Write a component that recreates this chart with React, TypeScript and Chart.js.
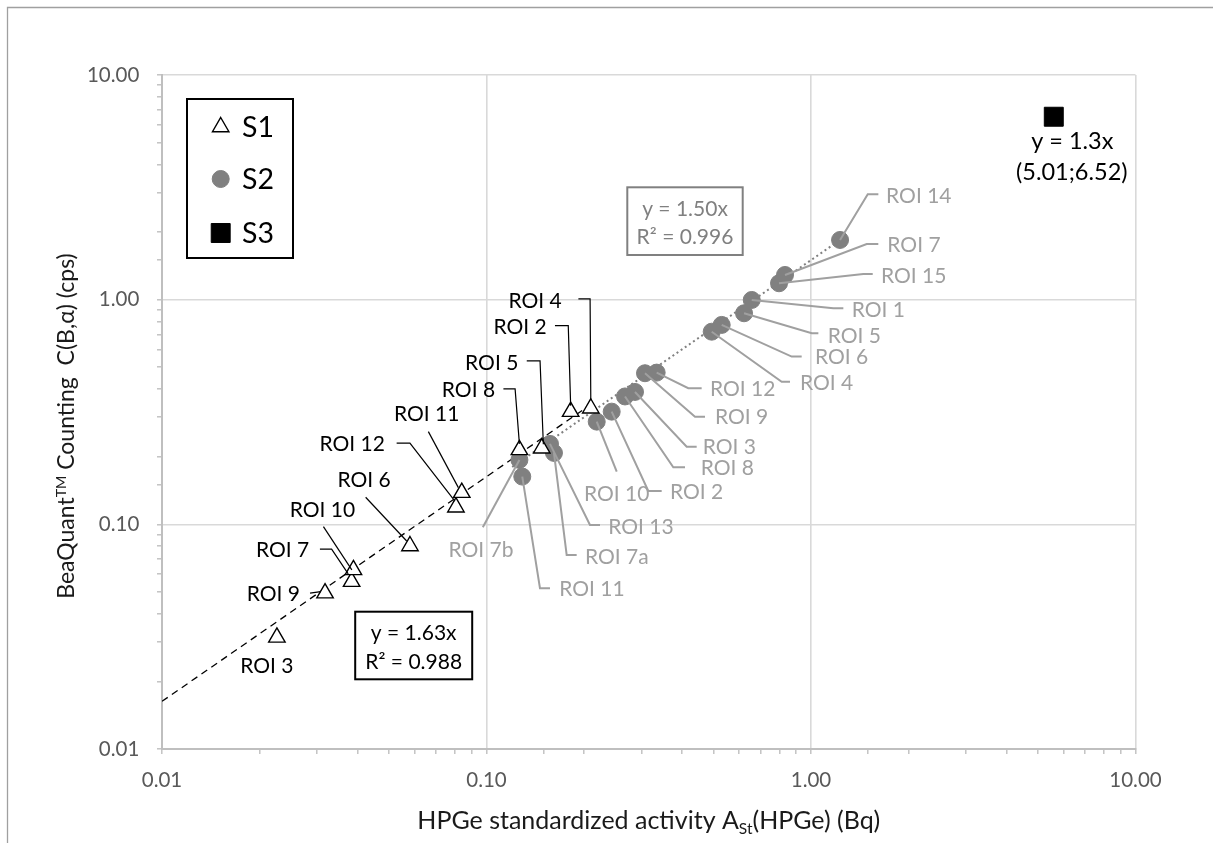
import React, { useEffect, useRef } from 'react';
import { Chart, registerables } from 'chart.js';

Chart.register(...registerables);

// ---------- data ----------
const s1Names = ['ROI 3', 'ROI 9', 'ROI 7', 'ROI 10', 'ROI 6', 'ROI 12', 'ROI 11', 'ROI 8', 'ROI 5', 'ROI 2', 'ROI 4'];
const s1X = [0.0226, 0.0318, 0.0384, 0.0389, 0.0581, 0.0805, 0.0839, 0.1263, 0.148, 0.1817, 0.2096];
const s1Y = [0.0314, 0.0494, 0.0556, 0.0627, 0.0801, 0.1192, 0.1384, 0.2145, 0.2182, 0.3174, 0.3286];

const s2Names = ['ROI 11', 'ROI 7b', 'ROI 13', 'ROI 7a', 'ROI 10', 'ROI 2', 'ROI 8', 'ROI 3', 'ROI 9', 'ROI 12', 'ROI 4', 'ROI 6', 'ROI 5', 'ROI 1', 'ROI 15', 'ROI 7', 'ROI 14'];
const s2X = [0.1289, 0.1263, 0.1569, 0.1614, 0.2186, 0.2431, 0.2672, 0.2868, 0.3079, 0.3345, 0.4943, 0.5306, 0.6219, 0.6568, 0.797, 0.8316, 1.229];
const s2Y = [0.1631, 0.1935, 0.228, 0.2079, 0.2865, 0.3174, 0.3709, 0.3884, 0.4705, 0.4735, 0.7202, 0.772, 0.87, 0.997, 1.183, 1.288, 1.844];

const s3X = [5.6];
const s3Y = [6.52];

const seriesNames = ['S1', 'S2', 'S3'];

const s1Slope = 1.63;
const s1R2 = '0.988';
const s1FitRange = [0.01, 0.21];
const s2Slope = 1.5;
const s2R2 = '0.996';
const s2FitRange = [0.12, 1.23];
const s3Text = ['y = 1.3x', '(5.01;6.52)'];

const xTicks = [0.01, 0.1, 1, 10];
const yTicks = [0.01, 0.1, 1, 10];

// ---------- label layout (pixel offsets from the point) ----------
type Lbl = { t: [number, number]; a?: CanvasTextAlign; p?: [number, number][] };
const s1Layout: Record<string, Lbl> = {
  'ROI 4': { t: [-29, -108.3], a: 'right', p: [[-12.4, -109.3], [-0.7, -109.3], [0, -8]] },
  'ROI 2': { t: [-24, -85], a: 'right', p: [[-15.7, -86], [-2.4, -86], [0, -6]] },
  'ROI 5': { t: [-23.4, -86], a: 'right', p: [[-15, -87.3], [-1.7, -87.3], [1.6, -4]] },
  'ROI 8': { t: [-24.3, -60], a: 'right', p: [[-16, -61], [-4.3, -61], [0, -6]] },
  'ROI 11': { t: [-2.4, -79.4], a: 'right', p: [[-33.4, -61], [-3.4, -5]] },
  'ROI 12': { t: [-71, -63.3], a: 'right', p: [[-59.3, -64], [-46, -64], [-1, -6]] },
  'ROI 6': { t: [-19.3, -66.7], a: 'right', p: [[-44.3, -48.7], [-3.3, -5]] },
  'ROI 10': { t: [1.7, -60.7], a: 'right', p: [[-30, -43.3], [-1.6, 0]] },
  'ROI 7': { t: [-42.4, -31.7], a: 'right', p: [[-31.7, -32.4], [-20, -32.4], [-3.4, -7.7]] },
  'ROI 9': { t: [-25, 0], a: 'right', p: [[-15, 0], [-4.3, -1.6]] },
  'ROI 3': { t: [-10, 27.7], a: 'center' },
};
const s2Layout: Record<string, Lbl> = {
  'ROI 14': { t: [46, -45], p: [[0, 0], [27.7, -45.7], [38.3, -45.7]] },
  'ROI 7': { t: [102.3, -30.7], p: [[0, 0], [81.7, -31], [93.3, -31]] },
  'ROI 15': { t: [102, -8.3], p: [[0, 0], [84.3, -9.3], [93.7, -9.3]] },
  'ROI 1': { t: [100, 9.3], p: [[0, 0], [81.6, 8.3], [91.6, 8.3]] },
  'ROI 5': { t: [83.7, 21.7], p: [[0, 0], [67.7, 20], [74.3, 20]] },
  'ROI 6': { t: [93.3, 32], p: [[0, 0], [70, 31.7], [80, 31.7]] },
  'ROI 4': { t: [88.3, 50.3], p: [[0, 0], [70, 50], [78.3, 50]] },
  'ROI 12': { t: [53.3, 15.6], p: [[0, 0], [31.6, 15.6], [45, 15.6]] },
  'ROI 9': { t: [70, 43.4], p: [[0, 0], [50, 43.4], [60, 43.4]] },
  'ROI 3': { t: [67.7, 54.7], p: [[0, 0], [51.7, 54.7], [61.7, 54.7]] },
  'ROI 8': { t: [75.7, 70.8], p: [[0, 0], [48.3, 70.8], [60, 70.8]] },
  'ROI 2': { t: [58.3, 80], p: [[0, 0], [36.6, 79.3], [50, 79.3]] },
  'ROI 10': { t: [20, 71.6], a: 'center', p: [[0, 0], [20, 50]] },
  'ROI 13': { t: [58.3, 82.7], p: [[0, 0], [40, 81], [50, 81]] },
  'ROI 7a': { t: [31, 103.7], p: [[0, 0], [12.7, 102], [22.7, 102]] },
  'ROI 11': { t: [37, 111.6], p: [[0, 0], [17.7, 111.6], [27.7, 111.6]] },
  'ROI 7b': { t: [-38.5, 89.3], a: 'center', p: [[0, 0], [-36.6, 67.3]] },
};

// ---------- styles ----------
const FONT = 'Lato, "Open Sans", "Noto Sans", sans-serif';
const LBL = 21;
const GRAY_PT = '#808080';
const GRAY_LBL = '#a0a0a0';

type Seg = { t: string; k?: 'sup' | 'sub' };

function drawRich(ctx: CanvasRenderingContext2D, segs: Seg[], x: number, yMid: number, size: number, color: string, align: 'center' | 'left') {
  const small = size * 0.62;
  const widths = segs.map((s) => {
    ctx.font = `${s.k ? small : size}px ${FONT}`;
    return ctx.measureText(s.t).width;
  });
  const total = widths.reduce((a, b) => a + b, 0);
  let cx = align === 'center' ? x - total / 2 : x;
  const base = yMid + size * 0.36;
  ctx.fillStyle = color;
  ctx.textAlign = 'left';
  ctx.textBaseline = 'alphabetic';
  segs.forEach((s, i) => {
    ctx.font = `${s.k ? small : size}px ${FONT}`;
    const dy = s.k === 'sup' ? -size * 0.36 : s.k === 'sub' ? size * 0.2 : 0;
    ctx.fillText(s.t, cx, base + dy);
    cx += widths[i];
  });
}

function text(ctx: CanvasRenderingContext2D, t: string, x: number, yMid: number, size: number, color: string, align: CanvasTextAlign) {
  ctx.font = `${size}px ${FONT}`;
  ctx.fillStyle = color;
  ctx.textAlign = align;
  ctx.textBaseline = 'alphabetic';
  ctx.fillText(t, x, yMid + size * 0.36);
}

function marker(ctx: CanvasRenderingContext2D, kind: string, x: number, y: number, r: number, fill: string, stroke: string, lw: number) {
  ctx.beginPath();
  if (kind === 'triangle') {
    for (let i = 0; i < 3; i++) {
      const a = (i * 2 * Math.PI) / 3;
      const px = x + Math.sin(a) * r;
      const py = y - Math.cos(a) * r;
      if (i === 0) ctx.moveTo(px, py);
      else ctx.lineTo(px, py);
    }
    ctx.closePath();
  } else if (kind === 'circle') {
    ctx.arc(x, y, r, 0, Math.PI * 2);
  } else {
    const s = Math.SQRT1_2 * r;
    ctx.rect(x - s, y - s, 2 * s, 2 * s);
  }
  ctx.fillStyle = fill;
  ctx.fill();
  ctx.lineWidth = lw;
  ctx.strokeStyle = stroke;
  ctx.stroke();
}

const isDecade = (v: number) => {
  const l = Math.log10(v);
  return Math.abs(l - Math.round(l)) < 1e-9;
};

const annotationPlugin = {
  id: 'annot',
  afterDatasetsDraw(chart: any) {
    const ctx: CanvasRenderingContext2D = chart.ctx;
    const xs = chart.scales.x;
    const ys = chart.scales.y;
    ctx.save();
    // S2 leaders + labels
    s2Names.forEach((n, i) => {
      const L = s2Layout[n];
      if (!L) return;
      const px = xs.getPixelForValue(s2X[i]);
      const py = ys.getPixelForValue(s2Y[i]);
      if (L.p) {
        ctx.beginPath();
        L.p.forEach(([dx, dy], j) => (j === 0 ? ctx.moveTo(px + dx, py + dy) : ctx.lineTo(px + dx, py + dy)));
        ctx.strokeStyle = GRAY_LBL;
        ctx.lineWidth = 2;
        ctx.stroke();
      }
      text(ctx, n, px + L.t[0], py + L.t[1], LBL, GRAY_LBL, L.a || 'left');
    });
    // S1 leaders + labels
    s1Names.forEach((n, i) => {
      const L = s1Layout[n];
      if (!L) return;
      const px = xs.getPixelForValue(s1X[i]);
      const py = ys.getPixelForValue(s1Y[i]);
      if (L.p) {
        ctx.beginPath();
        L.p.forEach(([dx, dy], j) => (j === 0 ? ctx.moveTo(px + dx, py + dy) : ctx.lineTo(px + dx, py + dy)));
        ctx.strokeStyle = '#000';
        ctx.lineWidth = 1.2;
        ctx.stroke();
      }
      text(ctx, n, px + L.t[0], py + L.t[1], LBL, '#000', L.a || 'right');
    });
    ctx.restore();
  },
  afterDraw(chart: any) {
    const ctx: CanvasRenderingContext2D = chart.ctx;
    const ca = chart.chartArea;
    const xs = chart.scales.x;
    const ys = chart.scales.y;
    ctx.save();

    // outer frame (left + top)
    ctx.beginPath();
    ctx.moveTo(7.5, 843);
    ctx.lineTo(7.5, 7.5);
    ctx.lineTo(1213, 7.5);
    ctx.strokeStyle = '#a0a0a0';
    ctx.lineWidth = 1.3;
    ctx.stroke();

    // legend
    const lx = ca.left + 25;
    const ly = ca.top + 24;
    ctx.fillStyle = '#fff';
    ctx.fillRect(lx, ly, 106, 159);
    ctx.strokeStyle = '#000';
    ctx.lineWidth = 2;
    ctx.strokeRect(lx, ly, 106, 159);
    const ds = chart.data.datasets;
    const rows = [28, 80, 134];
    for (let i = 0; i < 3; i++) {
      const d = ds[i];
      marker(ctx, d.pointStyle, lx + 33.7, ly + rows[i], d.pointRadius, d.pointBackgroundColor, d.pointBorderColor, d.pointBorderWidth);
      text(ctx, seriesNames[i], lx + 55, ly + rows[i], 28.5, '#000', 'left');
    }

    // S1 fit box
    const b1x = ca.left + 193.2;
    const b1y = ca.top + 536.7;
    ctx.fillStyle = '#fff';
    ctx.fillRect(b1x, b1y, 117, 67.6);
    ctx.strokeStyle = '#000';
    ctx.lineWidth = 2;
    ctx.strokeRect(b1x, b1y, 117, 67.6);
    text(ctx, `y = ${s1Slope.toFixed(2)}x`, b1x + 58.5, b1y + 21, LBL, '#000', 'center');
    text(ctx, `R² = ${s1R2}`, b1x + 58.5, b1y + 50, LBL, '#000', 'center');

    // S2 fit box
    const b2x = ca.left + 465.3;
    const b2y = ca.top + 112.3;
    ctx.fillStyle = '#fff';
    ctx.fillRect(b2x, b2y, 115.4, 67.7);
    ctx.strokeStyle = GRAY_PT;
    ctx.lineWidth = 2;
    ctx.strokeRect(b2x, b2y, 115.4, 67.7);
    text(ctx, `y = ${s2Slope.toFixed(2)}x`, b2x + 57.7, b2y + 21, LBL, GRAY_PT, 'center');
    text(ctx, `R² = ${s2R2}`, b2x + 57.7, b2y + 49.4, LBL, GRAY_PT, 'center');

    // S3 text
    const p3x = xs.getPixelForValue(s3X[0]);
    const p3y = ys.getPixelForValue(s3Y[0]);
    text(ctx, s3Text[0], p3x + 18.5, p3y + 24.3, 23.5, '#000', 'center');
    text(ctx, s3Text[1], p3x + 18, p3y + 55, 23.5, '#000', 'center');

    // axis titles
    drawRich(
      ctx,
      [{ t: 'HPGe standardized activity A' }, { t: 'St', k: 'sub' }, { t: '(HPGe) (Bq)' }],
      (ca.left + ca.right) / 2,
      ca.bottom + 71,
      25,
      '#1a1a1a',
      'center'
    );
    ctx.save();
    ctx.translate(66, 426);
    ctx.rotate(-Math.PI / 2);
    drawRich(
      ctx,
      [{ t: 'BeaQuant' }, { t: 'TM', k: 'sup' }, { t: ' Counting  C(B,α) (cps)' }],
      0,
      0,
      23,
      '#1a1a1a',
      'center'
    );
    ctx.restore();

    ctx.restore();
  },
};

export default function App() {
  const ref = useRef<HTMLCanvasElement>(null);
  useEffect(() => {
    const canvas = ref.current;
    if (!canvas) return;
    const axisCommon = (isX: boolean) => ({
      type: 'logarithmic' as const,
      min: 0.01,
      max: 10,
      grid: {
        color: (c: any) => (c.tick && isDecade(c.tick.value) ? '#d9d9d9' : 'rgba(0,0,0,0)'),
        lineWidth: 1.6,
        tickColor: '#bfbfbf',
        tickWidth: 1.4,
        tickLength: 5,
        drawTicks: true,
      },
      border: { color: '#bfbfbf', width: 2 },
      ticks: {
        autoSkip: false,
        maxRotation: 0,
        color: '#595959',
        font: { family: FONT, size: 20.5 },
        padding: isX ? 14 : 17.7,
        callback: (v: any) => {
          const n = Number(v);
          const list = isX ? xTicks : yTicks;
          return list.some((t) => Math.abs(Math.log10(t) - Math.log10(n)) < 1e-9) ? n.toFixed(2) : '';
        },
      },
    });
    const chart = new Chart(canvas, {
      type: 'scatter',
      data: {
        datasets: [
          {
            label: seriesNames[0],
            data: s1X.map((x, i) => ({ x, y: s1Y[i] })),
            pointStyle: 'triangle',
            pointRadius: 9.5,
            pointBackgroundColor: '#ffffff',
            pointBorderColor: '#000000',
            pointBorderWidth: 1.4,
            order: 1,
          } as any,
          {
            label: seriesNames[1],
            data: s2X.map((x, i) => ({ x, y: s2Y[i] })),
            pointStyle: 'circle',
            pointRadius: 8.5,
            pointBackgroundColor: GRAY_PT,
            pointBorderColor: GRAY_PT,
            pointBorderWidth: 1,
            order: 1,
          } as any,
          {
            label: seriesNames[2],
            data: s3X.map((x, i) => ({ x, y: s3Y[i] })),
            pointStyle: 'rect',
            pointRadius: 13.4,
            pointBackgroundColor: '#000000',
            pointBorderColor: '#000000',
            pointBorderWidth: 1,
            order: 1,
          } as any,
          {
            label: 'fit S1',
            data: s1FitRange.map((x) => ({ x, y: s1Slope * x })),
            showLine: true,
            pointRadius: 0,
            borderColor: '#000000',
            borderWidth: 1.3,
            borderDash: [7, 5],
            order: 2,
          } as any,
          {
            label: 'fit S2',
            data: s2FitRange.map((x) => ({ x, y: s2Slope * x })),
            showLine: true,
            pointRadius: 0,
            borderColor: GRAY_PT,
            borderWidth: 2,
            borderDash: [2, 3],
            order: 2,
          } as any,
        ],
      },
      options: {
        responsive: false,
        animation: false,
        events: [],
        layout: { padding: { left: 0, top: 75, right: 77.5, bottom: 0 } },
        plugins: { legend: { display: false }, tooltip: { enabled: false } },
        scales: {
          x: { ...axisCommon(true), position: 'bottom', afterFit: (s: any) => { s.height = 94; } } as any,
          y: { ...axisCommon(false), position: 'left', afterFit: (s: any) => { s.width = 162; } } as any,
        },
      },
      plugins: [annotationPlugin],
    });
    return () => chart.destroy();
  }, []);
  return (
    <div style={{ position: 'fixed', left: 0, top: 0, width: 1213, height: 843, background: '#fff' }}>
      <canvas ref={ref} width={1213} height={843} style={{ display: 'block' }} />
    </div>
  );
}
